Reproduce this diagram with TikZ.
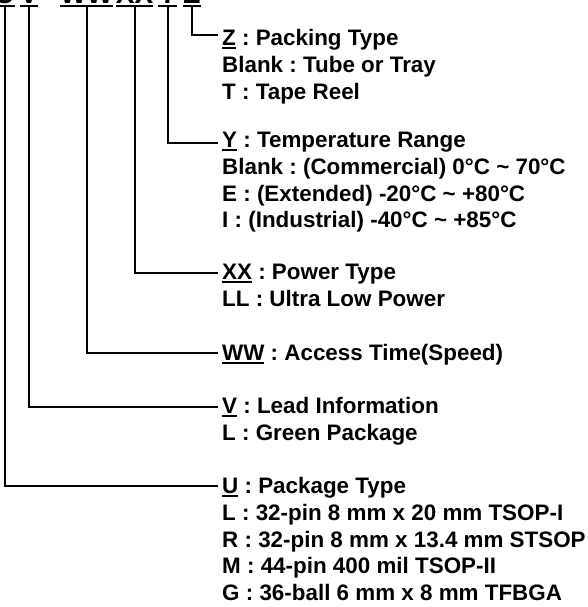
\documentclass[tikz,border=0pt]{standalone}
\usepackage{fontspec}
\setmainfont{Liberation Sans}
\frenchspacing

\newcommand\codeul[1]{\setbox0\hbox{#1}\rlap{\rule[-3.3pt]{\wd0}{1.8pt}}\box0\relax}

\tikzset{
  code/.style={font=\fontsize{28}{32}\selectfont\bfseries,inner sep=0pt,anchor=base},
  desc/.style={font=\fontsize{22.4}{26.67}\selectfont\bfseries,align=left,
    inner xsep=4pt,inner ysep=0pt,anchor=north west},
  lead/.style={line width=2pt}
}

\begin{document}
\begin{tikzpicture}[x=1pt,y=-1pt]
\useasboundingbox (0,0) rectangle (588,607);

% code letters of the part number
\node[code] (hu) at (4.7,3.5) {\codeul{U}};
\node[code] (hv) at (29,3.5) {\codeul{V}};
\node[code] (hww) at (86.5,3.5) {\codeul{WW}};
\node[code] (hxx) at (134.5,3.5) {\codeul{XX}};
\node[code] (hy) at (167.5,3.5) {\codeul{Y}};
\node[code] (hz) at (192,3.5) {\codeul{Z}};

% descriptions
\node[desc] (bz) at (218,29.5) {\codeul{Z} : Packing Type\\Blank : Tube or Tray\\T : Tape Reel};
\node[desc] (by) at (218,132.3) {\codeul{Y} : Temperature Range\\Blank : (Commercial) 0°C \textasciitilde{} 70°C\\E : (Extended) -20°C \textasciitilde{} +80°C\\I : (Industrial) -40°C \textasciitilde{} +85°C};
\node[desc] (bxx) at (218,264) {\codeul{XX} : Power Type\\LL : Ultra Low Power};
\node[desc] (bww) at (218,344) {\codeul{WW} : Access Time(Speed)};
\node[desc] (bv) at (218,397.3) {\codeul{V} : Lead Information\\L : Green Package};
\node[desc] (bu) at (218,477.3) {\codeul{U} : Package Type\\L : 32-pin 8 mm x 20 mm TSOP-I\\R : 32-pin 8 mm x 13.4 mm STSOP\\M : 44-pin 400 mil TSOP-II\\G : 36-ball 6 mm x 8 mm TFBGA};

% leaders
\draw[lead] (hz.south) |- ([yshift=-5.5pt]bz.north west);
\draw[lead] (hy.south) |- ([yshift=-10.4pt]by.north west);
\draw[lead] (hxx.south) |- ([yshift=-9.3pt]bxx.north west);
\draw[lead] (hww.south) |- ([yshift=-9.3pt]bww.north west);
\draw[lead] (hv.south) |- ([yshift=-9.4pt]bv.north west);
\draw[lead] (hu.south) |- ([yshift=-8.4pt]bu.north west);

\end{tikzpicture}
\end{document}
